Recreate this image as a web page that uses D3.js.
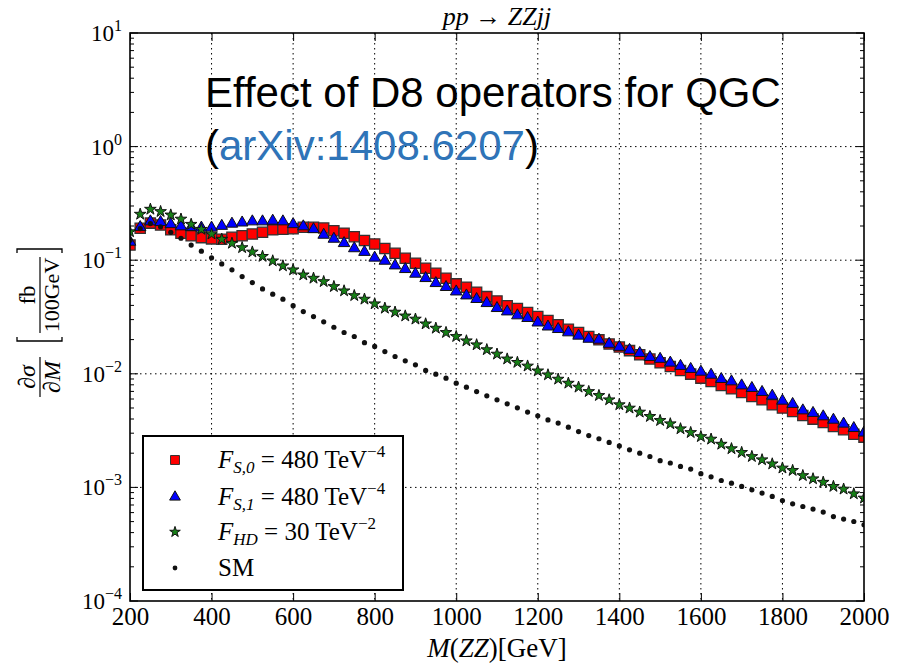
<!DOCTYPE html>
<html><head><meta charset="utf-8">
<script src="https://cdn.jsdelivr.net/npm/d3@7"></script>
<style>html,body{margin:0;padding:0;background:#fff;}</style>
</head><body>
<svg id="chart" width="905" height="665"></svg>
<script>
// ---- data ----
const massGeV = [200,225,250,275,300,325,350,375,400,425,450,475,500,525,550,575,600,625,650,675,700,725,750,775,800,825,850,875,900,925,950,975,1000,1025,1050,1075,1100,1125,1150,1175,1200,1225,1250,1275,1300,1325,1350,1375,1400,1425,1450,1475,1500,1525,1550,1575,1600,1625,1650,1675,1700,1725,1750,1775,1800,1825,1850,1875,1900,1925,1950,1975,2000];
const fs0 = [0.136,0.191,0.212,0.204,0.185,0.173,0.164,0.158,0.154,0.153,0.159,0.164,0.170,0.176,0.185,0.187,0.189,0.195,0.195,0.192,0.182,0.173,0.161,0.149,0.139,0.127,0.115,0.104,0.094,0.085,0.0768,0.0694,0.0619,0.0579,0.0523,0.0478,0.0438,0.0398,0.0375,0.0346,0.0319,0.0294,0.0270,0.0247,0.0231,0.0213,0.0199,0.0183,0.0172,0.0160,0.0147,0.0135,0.0125,0.0116,0.0107,0.00993,0.00916,0.00855,0.00788,0.00738,0.00684,0.00631,0.00590,0.00534,0.00499,0.00466,0.00429,0.00399,0.00373,0.00343,0.00322,0.00294,0.00277];
const fs1 = [0.145,0.195,0.219,0.216,0.207,0.198,0.195,0.193,0.193,0.200,0.209,0.214,0.219,0.219,0.222,0.219,0.207,0.198,0.187,0.167,0.154,0.141,0.127,0.118,0.105,0.0986,0.0897,0.0833,0.0758,0.0694,0.0627,0.0579,0.0529,0.0488,0.0454,0.0418,0.0378,0.0353,0.0326,0.0309,0.0282,0.0260,0.0247,0.0231,0.0216,0.0203,0.0199,0.0183,0.0172,0.0162,0.0152,0.0140,0.0135,0.0125,0.0117,0.0110,0.0104,0.00979,0.00897,0.00855,0.00788,0.00748,0.00690,0.00640,0.00578,0.00541,0.00475,0.00451,0.00421,0.00393,0.00363,0.00332,0.00303];
const fhd = [0.178,0.254,0.281,0.268,0.250,0.230,0.207,0.187,0.170,0.153,0.141,0.129,0.118,0.108,0.0986,0.0891,0.0822,0.0742,0.0694,0.0648,0.0586,0.0537,0.0488,0.0454,0.0413,0.0378,0.0349,0.0323,0.0303,0.0275,0.0252,0.0231,0.0213,0.0195,0.0180,0.0163,0.0149,0.0135,0.0126,0.0117,0.0106,0.00979,0.00897,0.00827,0.00763,0.00698,0.00644,0.00590,0.00534,0.00499,0.00460,0.00421,0.00388,0.00363,0.00328,0.00304,0.00280,0.00266,0.00240,0.00219,0.00203,0.00187,0.00175,0.00161,0.00148,0.00141,0.00127,0.00119,0.00111,0.00102,0.000966,0.000878,0.000805];
const sm = [0.150,0.190,0.210,0.197,0.176,0.156,0.136,0.120,0.105,0.0928,0.0822,0.0717,0.0635,0.0559,0.0502,0.0454,0.0398,0.0353,0.0319,0.0287,0.0257,0.0231,0.0213,0.0188,0.0174,0.0157,0.0142,0.0130,0.0120,0.0107,0.00993,0.00916,0.00827,0.00763,0.00698,0.00640,0.00590,0.00544,0.00502,0.00460,0.00427,0.00393,0.00368,0.00339,0.00310,0.00286,0.00268,0.00249,0.00232,0.00214,0.00200,0.00187,0.00172,0.00164,0.00153,0.00145,0.00132,0.00124,0.00115,0.00109,0.00102,0.000953,0.000891,0.000832,0.000767,0.000717,0.000679,0.000644,0.000606,0.000554,0.000526,0.000501,0.000469];
const xTicks = [200,400,600,800,1000,1200,1400,1600,1800,2000];
const yTickExp = [1,0,-1,-2,-3,-4];
const seriesNames = ["fs0","fs1","fhd","sm"];

// ---- layout ----
const svg = d3.select("#chart");
const L=130, R=864, T=33, B=601;
const x = d3.scaleLinear().domain([200,2000]).range([L,R]);
const y = d3.scaleLog().domain([1e-4,1e1]).range([B,T]);
const serif = "'Liberation Serif','DejaVu Serif',serif";

svg.append("rect").attr("width",905).attr("height",665).attr("fill","#fff");

svg.append("defs").append("clipPath").attr("id","plotclip")
  .append("rect").attr("x",L).attr("y",T).attr("width",R-L).attr("height",B-T);

// grid
const grid = svg.append("g").attr("stroke","#000").attr("stroke-width",1).attr("stroke-dasharray","1.5,3.5");
xTicks.filter(t=>t>200&&t<2000).forEach(t=>{
  grid.append("line").attr("x1",x(t)).attr("x2",x(t)).attr("y1",T).attr("y2",B);
});
yTickExp.filter(e=>e<1&&e>-4).forEach(e=>{
  grid.append("line").attr("x1",L).attr("x2",R).attr("y1",y(Math.pow(10,e))).attr("y2",y(Math.pow(10,e)));
});

// x axis bottom
const xa = svg.append("g").attr("transform",`translate(0,${B})`)
  .call(d3.axisBottom(x).tickValues(xTicks).tickSizeInner(-8).tickSizeOuter(0).tickPadding(6).tickFormat(d3.format("d")));
xa.select(".domain").remove();
xa.selectAll("line").attr("stroke","#000").attr("stroke-width",1);
xa.selectAll("text").attr("font-family",serif).attr("font-size",25).attr("fill","#000");
// x axis top ticks
const xt = svg.append("g").attr("transform",`translate(0,${T})`)
  .call(d3.axisTop(x).tickValues(xTicks).tickSizeInner(-8).tickSizeOuter(0).tickFormat(""));
xt.select(".domain").remove();
xt.selectAll("line").attr("stroke","#000");

// y ticks (major+minor) left & right
const minor = [];
for (let e=-4;e<1;e++) for (let m=2;m<=9;m++) minor.push(m*Math.pow(10,e));
const tg = svg.append("g").attr("stroke","#000").attr("stroke-width",1);
yTickExp.forEach(e=>{
  const yy=y(Math.pow(10,e));
  tg.append("line").attr("x1",L).attr("x2",L+8).attr("y1",yy).attr("y2",yy);
  tg.append("line").attr("x1",R).attr("x2",R-8).attr("y1",yy).attr("y2",yy);
});
minor.forEach(v=>{
  const yy=y(v);
  tg.append("line").attr("x1",L).attr("x2",L+4).attr("y1",yy).attr("y2",yy);
  tg.append("line").attr("x1",R).attr("x2",R-4).attr("y1",yy).attr("y2",yy);
});

// y tick labels 10^e
yTickExp.forEach(e=>{
  const t = svg.append("text").attr("x",122).attr("y",y(Math.pow(10,e))+8)
    .attr("text-anchor","end").attr("font-family",serif).attr("font-size",23).attr("fill","#000");
  t.append("tspan").text("10");
  t.append("tspan").attr("dy",-10).attr("font-size",16).text(e<0?"\u2212"+(-e):String(e));
});

// markers
const plot = svg.append("g").attr("clip-path","url(#plotclip)");
const symSq = d3.symbol(d3.symbolSquare, 105);
const symTri = d3.symbol(d3.symbolTriangle, 58);
const symStar = d3.symbol(d3.symbolStar, 42);
const styles = {
  fs0:{data:fs0, sym:symSq, fill:"#ff0000", stroke:"#333", sw:1.3},
  fs1:{data:fs1, sym:symTri, fill:"#0000ff", stroke:"#111", sw:1},
  fhd:{data:fhd, sym:symStar, fill:"#178017", stroke:"#111", sw:1},
  sm:{data:sm, sym:null, fill:"#111", stroke:"none", sw:0}
};
seriesNames.forEach(n=>{
  const s = styles[n];
  const g = plot.append("g");
  if (s.sym) {
    g.selectAll("path").data(massGeV).join("path")
      .attr("transform",(d,i)=>`translate(${x(d)},${y(s.data[i])})`)
      .attr("d",s.sym).attr("fill",s.fill).attr("stroke",s.stroke).attr("stroke-width",s.sw);
  } else {
    g.selectAll("circle").data(massGeV).join("circle")
      .attr("cx",d=>x(d)).attr("cy",(d,i)=>y(s.data[i])).attr("r",2.6).attr("fill",s.fill);
  }
});

// frame
svg.append("rect").attr("x",L).attr("y",T).attr("width",R-L).attr("height",B-T)
  .attr("fill","none").attr("stroke","#000").attr("stroke-width",1.6);

// title
const title = svg.append("text").attr("x",(L+R)/2).attr("y",25).attr("text-anchor","middle")
  .attr("font-family",serif).attr("font-size",26).attr("fill","#000");
title.append("tspan").attr("font-style","italic").text("pp");
title.append("tspan").text(" \u2192 ");
title.append("tspan").attr("font-style","italic").text("ZZjj");

// annotation
const sans = "'Liberation Sans',Arial,sans-serif";
svg.append("text").attr("x",205).attr("y",107).attr("font-family",sans).attr("font-size",42)
  .attr("fill","#000").text("Effect of D8 operators for QGC");
const a2 = svg.append("text").attr("x",205).attr("y",160).attr("font-family",sans).attr("font-size",42).attr("fill","#000");
a2.append("tspan").text("(");
a2.append("tspan").attr("fill","#2f74b8").text("arXiv:1408.6207");
a2.append("tspan").text(")");

// x label
const xl = svg.append("text").attr("x",(L+R)/2).attr("y",657).attr("text-anchor","middle")
  .attr("font-family",serif).attr("font-size",27).attr("fill","#000");
xl.append("tspan").attr("font-style","italic").text("M");
xl.append("tspan").text("(");
xl.append("tspan").attr("font-style","italic").text("ZZ");
xl.append("tspan").text(")[GeV]");

// y label (rotated)
const yl = svg.append("g").attr("transform","translate(40,322) rotate(-90)")
  .attr("font-family",serif).attr("fill","#000");
yl.append("text").attr("x",-55).attr("y",-5).attr("text-anchor","middle").attr("font-size",24).attr("font-style","italic").text("\u2202\u03C3");
yl.append("line").attr("x1",-75).attr("x2",-35).attr("y1",0).attr("y2",0).attr("stroke","#000").attr("stroke-width",1.2);
yl.append("text").attr("x",-55).attr("y",20).attr("text-anchor","middle").attr("font-size",24).attr("font-style","italic").text("\u2202M");
yl.append("path").attr("d","M-15,-23 L-19,-23 L-19,22 L-15,22").attr("fill","none").attr("stroke","#000").attr("stroke-width",1.3);
yl.append("path").attr("d","M69,-23 L73,-23 L73,22 L69,22").attr("fill","none").attr("stroke","#000").attr("stroke-width",1.3);
yl.append("text").attr("x",27).attr("y",-5).attr("text-anchor","middle").attr("font-size",23).text("fb");
yl.append("line").attr("x1",-11).attr("x2",65).attr("y1",0).attr("y2",0).attr("stroke","#000").attr("stroke-width",1.2);
yl.append("text").attr("x",27).attr("y",19).attr("text-anchor","middle").attr("font-size",22).text("100GeV");

// legend
const lg = svg.append("g");
lg.append("rect").attr("x",143).attr("y",436).attr("width",260).attr("height",154)
  .attr("fill","#fff").attr("stroke","#000").attr("stroke-width",2);
const rows = [
  {n:"fs0", y:460, sub:"S,0", val:"480", unit:"TeV", exp:"\u22124"},
  {n:"fs1", y:497, sub:"S,1", val:"480", unit:"TeV", exp:"\u22124"},
  {n:"fhd", y:532, sub:"HD", val:"30", unit:"TeV", exp:"\u22122"},
  {n:"sm", y:568}
];
rows.forEach(r=>{
  const s = styles[r.n];
  if (s.sym) {
    lg.append("path").attr("transform",`translate(175,${r.y})`)
      .attr("d", d3.symbol(s.sym.type(), r.n==="fs0"?80:(r.n==="fs1"?50:35))())
      .attr("fill",s.fill).attr("stroke",s.stroke).attr("stroke-width",1);
  } else {
    lg.append("circle").attr("cx",175).attr("cy",r.y).attr("r",2.4).attr("fill",s.fill);
  }
  const t = lg.append("text").attr("x",218).attr("y",r.y+8).attr("font-family",serif).attr("font-size",25).attr("fill","#000");
  if (r.sub) {
    t.append("tspan").attr("font-style","italic").text("F");
    t.append("tspan").attr("dy",5).attr("font-size",17).attr("font-style","italic").text(r.sub);
    t.append("tspan").attr("dy",-5).text(" = " + r.val + " " + r.unit);
    t.append("tspan").attr("dy",-11).attr("font-size",17).text(r.exp);
  } else {
    t.text("SM");
  }
});
</script>
</body></html>
